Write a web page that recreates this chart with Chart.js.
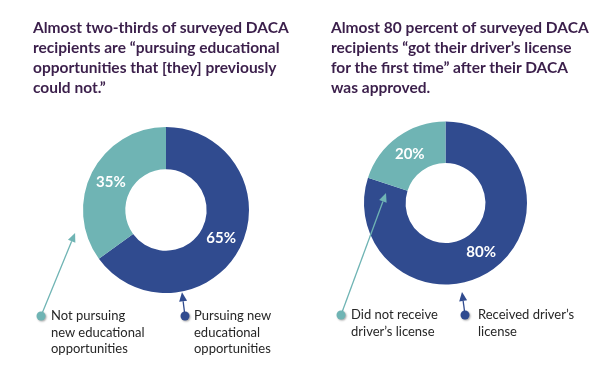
<!DOCTYPE html>
<html><head><meta charset="utf-8">
<script src="https://cdn.jsdelivr.net/npm/chart.js@4"></script>
<style>
html,body{margin:0;padding:0;background:#fff;}
#wrap{position:relative;width:605px;height:380px;overflow:hidden;font-family:Lato,"Open Sans",sans-serif;}
canvas{position:absolute;top:0;}
.title{position:absolute;top:17px;font-weight:bold;font-size:15.5px;line-height:20px;color:#3b1f4b;white-space:nowrap;}
.leg{position:absolute;font-size:13px;line-height:16.5px;color:#262626;white-space:nowrap;}
</style></head>
<body><div id="wrap">
<canvas id="c1" width="300" height="380" style="left:0"></canvas>
<canvas id="c2" width="305" height="380" style="left:300px"></canvas>
<div class="title" style="left:33px">Almost two-thirds of surveyed DACA<br>recipients are “pursuing educational<br>opportunities that [they] previously<br>could not.”</div>
<div class="title" style="left:331px">Almost 80 percent of surveyed DACA<br>recipients “got their driver’s license<br>for the first time” after their DACA<br>was approved.</div>
<div class="leg" style="left:51px;top:307px">Not pursuing<br>new educational<br>opportunities</div>
<div class="leg" style="left:194px;top:307px">Pursuing new<br>educational<br>opportunities</div>
<div class="leg" style="left:351px;top:306px">Did not receive<br>driver’s license</div>
<div class="leg" style="left:478px;top:306px">Received driver’s<br>license</div>
</div>
<script>
const categories1 = ["Pursuing new educational opportunities", "Not pursuing new educational opportunities"];
const values1 = [65, 35];
const categories2 = ["Received driver’s license", "Did not receive driver’s license"];
const values2 = [80, 20];
const colors = ["#304b8f", "#6fb4b4"];

const labelPlugin = {
  id: 'pctLabels',
  afterDatasetsDraw(chart) {
    const ctx = chart.ctx;
    const meta = chart.getDatasetMeta(0);
    const vals = chart.data.datasets[0].data;
    ctx.save();
    ctx.fillStyle = '#fff';
    ctx.font = 'bold 15px Lato, "Open Sans", sans-serif';
    ctx.textAlign = 'center';
    ctx.textBaseline = 'middle';
    meta.data.forEach((arc, i) => {
      const p = arc.tooltipPosition();
      ctx.fillText(vals[i] + '%', p.x, p.y);
    });
    ctx.restore();
  }
};

const arrowPlugin = {
  id: 'arrows',
  afterDraw(chart, args, opts) {
    const ctx = chart.ctx;
    const arc = chart.getDatasetMeta(0).data[0];
    const cx = arc.x, cy = arc.y, R = arc.outerRadius;
    (opts.items || []).forEach(it => {
      const a = it.angle * Math.PI / 180;
      const tx = cx + Math.cos(a) * R * it.r, ty = cy + Math.sin(a) * R * it.r;
      const [dx, dy] = it.dot;
      const ang = Math.atan2(ty - dy, tx - dx);
      ctx.save();
      ctx.strokeStyle = it.color; ctx.fillStyle = it.color; ctx.lineWidth = 1.3;
      const hl = 9, hw = 4;
      const bx = tx - Math.cos(ang) * hl, by = ty - Math.sin(ang) * hl;
      ctx.beginPath(); ctx.moveTo(dx, dy); ctx.lineTo(bx, by); ctx.stroke();
      ctx.beginPath();
      ctx.moveTo(tx, ty);
      ctx.lineTo(bx + Math.sin(ang) * hw, by - Math.cos(ang) * hw);
      ctx.lineTo(bx - Math.sin(ang) * hw, by + Math.cos(ang) * hw);
      ctx.closePath(); ctx.fill();
      ctx.shadowColor = 'rgba(0,0,0,0.35)'; ctx.shadowBlur = 2; ctx.shadowOffsetX = 1; ctx.shadowOffsetY = 1;
      ctx.beginPath(); ctx.arc(dx, dy, 4.5, 0, Math.PI * 2); ctx.fill();
      ctx.restore();
    });
  }
};

function makeChart(id, labels, data, padding, items) {
  return new Chart(document.getElementById(id), {
    type: 'doughnut',
    data: { labels, datasets: [{ data, backgroundColor: colors, borderWidth: 0 }] },
    options: {
      responsive: false, animation: false, cutout: '49%',
      layout: { padding },
      plugins: { legend: { display: false }, tooltip: { enabled: false }, arrows: { items } }
    },
    plugins: [labelPlugin, arrowPlugin]
  });
}

makeChart('c1', categories1, values1, { left: 83, right: 51, top: 127, bottom: 87 }, [
  { color: colors[1], angle: 165.8, r: 1.13, dot: [41, 316] },
  { color: colors[0], angle: 79, r: 1.01, dot: [185, 316] }
]);
makeChart('c2', categories2, values2, { left: 64, right: 78, top: 121.5, bottom: 95.5 }, [
  { color: colors[1], angle: 189.5, r: 0.74, dot: [41, 315] },
  { color: colors[0], angle: 79.5, r: 1.11, dot: [165, 315] }
]);
</script>
</body></html>
